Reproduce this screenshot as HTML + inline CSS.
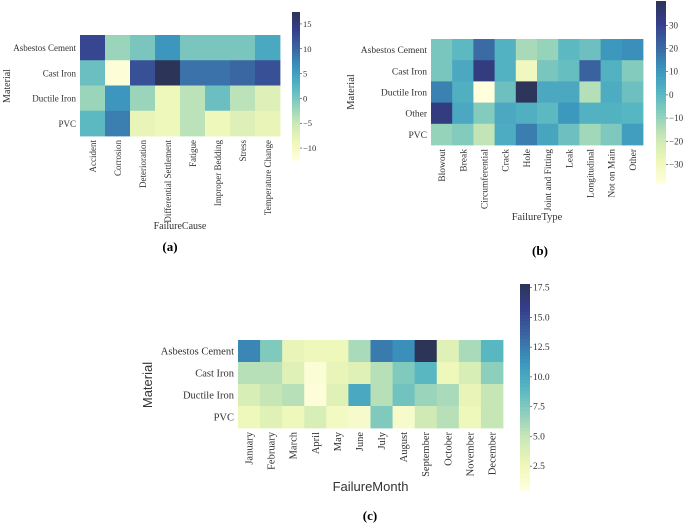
<!DOCTYPE html>
<html><head><meta charset="utf-8">
<style>
html,body{margin:0;padding:0;background:#fff;}
svg{display:block;}
text{font-family:"Liberation Serif",serif;fill:#333;}
</style></head>
<body>
<svg id="fig" width="685" height="525" viewBox="0 0 685 525"></svg>
<script>
// ---- data (a) ----
const aRows = ["Asbestos Cement","Cast Iron","Ductile Iron","PVC"];
const aCols = ["Accident","Corrosion","Deterioration","Differential Settlement","Fatigue","Improper Bedding","Stress","Temperature Change"];
const aAC = [13,-2,0,6,0,0,0,4];
const aCI = [1,-12,12,17.5,9,9,10,12];
const aDI = [-2,6,-2,-9,-4,1,-4,-7];
const aPVC = [2,8,-8,-9,-4,-9,-7,-8];
const aTicks = [15,10,5,0,-5,-10];
// ---- data (b) ----
const bRows = ["Asbestos Cement","Cast Iron","Ductile Iron","Other","PVC"];
const bCols = ["Blowout","Break","Circumferential","Crack","Hole","Joint and Fitting","Leak","Longitudinal","Not on Main","Other"];
const bAC = [-5,0,20,2,-13,-10,0,-3,10,12];
const bCI = [-5,5,33,2,-30,-5,-2,22,2,-7];
const bDI = [15,3,-38,-3,40,5,5,-15,4,-3];
const bOther = [33,5,-7,5,3,0,10,2,2,1];
const bPVC = [-10,-7,-17,4,16,6,-3,-12,-6,8];
const bTicks = [30,20,10,0,-10,-20,-30];
// ---- data (c) ----
const cRows = ["Asbestos Cement","Cast Iron","Ductile Iron","PVC"];
const cCols = ["January","February","March","April","May","June","July","August","September","October","November","December"];
const cAC = [12,7.5,3,2.5,2.5,6,12.5,11.5,18,3.5,6,9];
const cCI = [5.5,5.5,3.5,1,3,3.5,5.5,7.5,9,2.5,4,7];
const cDI = [4,5,5.5,0.8,3.5,10,5.5,8,6.5,6,3,5];
const cPVC = [2.5,3.5,2.5,4,2,1.5,7.5,1.5,4.5,5.5,2.5,5];
const cTicks = [17.5,15.0,12.5,10.0,7.5,5.0,2.5];

const NS="http://www.w3.org/2000/svg";
const svg=document.getElementById('fig');
const stops=["#ffffdc","#eef7b8","#cbe8b6","#8ccfbc","#55b5c2","#3a94bd","#3a67a2","#363f8c","#2c3457"];
function hex(h){return [1,3,5].map(i=>parseInt(h.substr(i,2),16));}
function cmap(t){t=Math.max(0,Math.min(1,t));const p=t*(stops.length-1);const i=Math.min(stops.length-2,Math.floor(p));const f=p-i;const a=hex(stops[i]),b=hex(stops[i+1]);return "rgb("+a.map((v,k)=>Math.round(v+(b[k]-v)*f)).join(",")+")";}
function el(tag,attrs,parent){const e=document.createElementNS(NS,tag);for(const k in attrs)e.setAttribute(k,attrs[k]);(parent||svg).appendChild(e);return e;}

function heatmap(o){
  const g=el('g',{});
  
  
  const cw=(o.x1-o.x0)/o.cols.length, rh=(o.y1-o.y0)/o.rows.length;
  const norm=v=>(v-o.vmin)/(o.vmax-o.vmin);
  o.data.forEach((row,r)=>row.forEach((v,c)=>{
    const rc=el('rect',{x:o.x0+c*cw,y:o.y0+r*rh,width:cw+0.4,height:rh+0.4,fill:cmap(norm(v))},g);
    
    
  }));
  o.rows.forEach((lab,r)=>{
    const t=el('text',{x:o.x0-4,y:o.y0+(r+0.5)*rh+3.5,'text-anchor':'end','font-size':o.fs},g);
    t.textContent=lab;
    
    
  });
  o.cols.forEach((lab,c)=>{
    const x=o.x0+(c+0.5)*cw+3.5, y=o.y1+4;
    const t=el('text',{x:x,y:y,'text-anchor':'end','font-size':o.fs,transform:'rotate(-90 '+x+' '+y+')'},g);
    t.textContent=lab;
    
    
  });
  const n=60, ch=(o.cb1-o.cb0)/n;
  for(let i=0;i<n;i++){
    el('rect',{x:o.cbx,y:o.cb0+i*ch,width:o.cbw,height:ch+0.5,fill:cmap(1-(i+0.5)/n)},g);
  }
  const cby=v=>o.cb1-(v-o.vmin)/(o.vmax-o.vmin)*(o.cb1-o.cb0);
  o.ticks.forEach(v=>{
    const y=cby(v);
    el('line',{x1:o.cbx+o.cbw,x2:o.cbx+o.cbw+2,y1:y,y2:y,stroke:'#333','stroke-width':0.6},g);
    const t=el('text',{x:o.cbx+o.cbw+3,y:y+3,'font-size':o.cfs},g);
    t.textContent=(v<0?'\u2212'+(-v):o.fmt?v.toFixed(1):v);
    
    
  });
  const xt=el('text',{x:(o.x0+o.x1)/2,y:o.xtY,'text-anchor':'middle','font-size':o.tfs,style:o.sans?'font-family:"Liberation Sans",sans-serif':''},g);
  xt.textContent=o.xtitle;
  
  
  const yt=el('text',{x:o.ytX,y:o.ytY,'text-anchor':'middle','font-size':o.tfs,transform:'rotate(-90 '+o.ytX+' '+o.ytY+')',style:o.sans?'font-family:"Liberation Sans",sans-serif':''},g);
  yt.textContent='Material';
  
  
  const cap=el('text',{x:o.capX,y:o.capY,'text-anchor':'middle','font-size':13,'font-weight':'bold',style:'fill:#000'},g);
  cap.textContent=o.cap;
  
  
}

heatmap({name:'heatmap-failure-cause',rows:aRows,cols:aCols,data:[aAC,aCI,aDI,aPVC],x0:80,x1:280,y0:35,y1:136,
  vmin:-12.4,vmax:17.4,ticks:aTicks,cbx:292,cbw:8,cb0:12,cb1:160,fs:9,cfs:8.5,tfs:10,xtitle:'FailureCause',xtY:229,ytX:10,ytY:86,cap:'(a)',capX:170,capY:251});
heatmap({name:'heatmap-failure-type',rows:bRows,cols:bCols,data:[bAC,bCI,bDI,bOther,bPVC],x0:431,x1:643,y0:39,y1:145,
  vmin:-38,vmax:40.5,ticks:bTicks,cbx:656,cbw:10,cb0:1,cb1:183,fs:9.5,cfs:9,tfs:10.5,xtitle:'FailureType',xtY:220,ytX:354,ytY:92,cap:'(b)',capX:540,capY:255});
heatmap({name:'heatmap-failure-month',rows:cRows,cols:cCols,data:[cAC,cCI,cDI,cPVC],x0:238,x1:503,y0:340,y1:428,
  vmin:0.5,vmax:17.8,ticks:cTicks,cbx:520,cbw:10,cb0:284,cb1:490,fs:10.5,cfs:9.5,tfs:13,sans:true,fmt:true,xtitle:'FailureMonth',xtY:491,ytX:152,ytY:385,cap:'(c)',capX:370,capY:520});
</script>
</body></html>
